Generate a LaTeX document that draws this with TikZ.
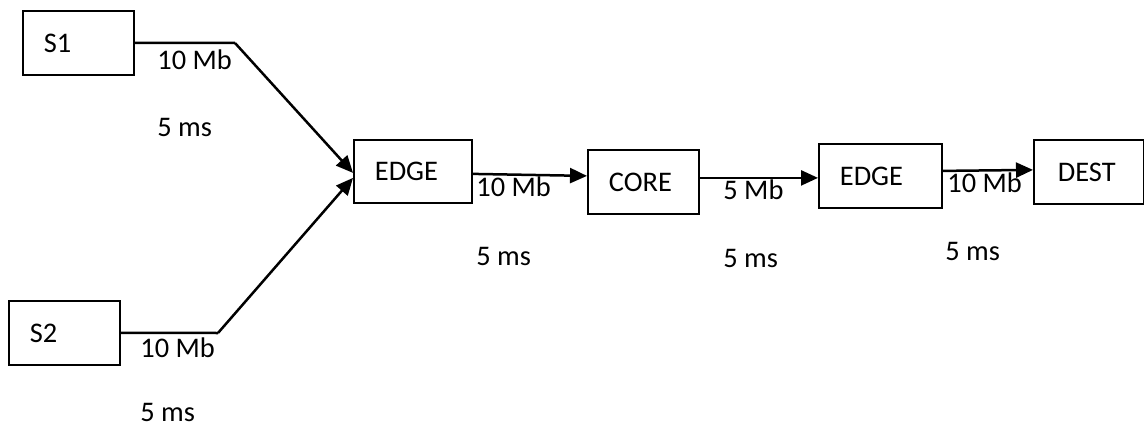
\documentclass[tikz,border=0pt]{standalone}
\usepackage{fontspec}
\setmainfont{Carlito}
\usetikzlibrary{arrows.meta}
\begin{document}
\begin{tikzpicture}[x=0.5pt,y=-0.5pt,font=\fontsize{14.2}{16}\selectfont,
  box/.style={draw,line width=0.9pt,anchor=north west,align=left,inner xsep=10.5pt,inner ysep=0pt,minimum height=32pt},
  link/.style={line width=1.25pt},
  arr/.style={line width=1.25pt,-{Triangle[length=8.5pt,width=7.5pt]}},
  lbl/.style={anchor=base west,inner sep=0pt}]
\useasboundingbox (0,0) rectangle (1144,427);

\node[box,text width=34.5pt] (s1) at (22,10) {S1};
\node[box,text width=34.5pt] (s2) at (8,300) {S2};
\node[box,text width=38pt,minimum height=31.5pt] (e1) at (353,139) {EDGE};
\node[box,text width=34.5pt] (core) at (587,149) {CORE};
\node[box,text width=40.5pt] (e2) at (818,143) {EDGE};
\node[box,text width=31pt,inner xsep=12pt] (dest) at (1033,139) {DEST};

\coordinate (j1) at (235,43);
\coordinate (j2) at (218,333);

\draw[link] (s1.east) -- (j1);
\draw[arr] (j1) -- ([yshift=-0.75pt]e1.west);
\draw[link] (s2.east) -- (j2);
\draw[arr] (j2) -- ([yshift=-3.25pt]e1.west);
\draw[arr] ([yshift=-1.25pt]e1.east) -- ([yshift=3pt]core.west);
\draw[arr] ([yshift=2pt]core.east) -- ([yshift=-1pt]e2.west);
\draw[arr] ([yshift=2.5pt]e2.east) -- ([yshift=1pt]dest.west);

\node[lbl] (r1) at (157,70) {10 Mb};
\node[lbl] (d1) at (157,137) {5 ms};
\node[lbl] (r2) at (140,357) {10 Mb};
\node[lbl] (d2) at (140,421) {5 ms};
\node[lbl] (r3) at (476,197) {10 Mb};
\node[lbl] (d3) at (476,265) {5 ms};
\node[lbl] (r4) at (723,199) {5 Mb};
\node[lbl] (d4) at (723,267) {5 ms};
\node[lbl] (r5) at (947,192) {10 Mb};
\node[lbl] (d5) at (945,260) {5 ms};
\end{tikzpicture}
\end{document}
